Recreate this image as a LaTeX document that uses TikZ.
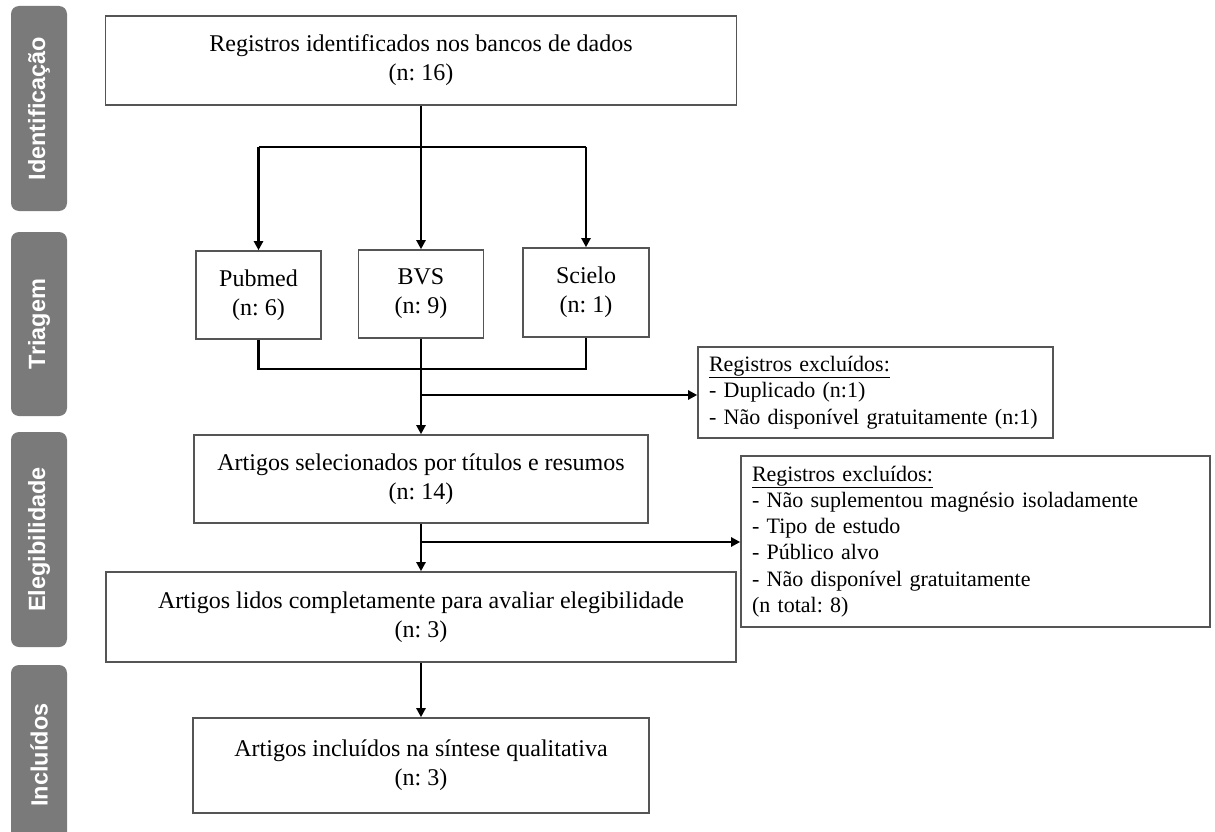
\documentclass[tikz,border=0pt]{standalone}
\usepackage{fontspec}
\setmainfont{Liberation Serif}
\newfontfamily\tabfont{Liberation Sans}
\usetikzlibrary{arrows.meta}
\frenchspacing
\definecolor{tabgray}{RGB}{122,122,122}
\definecolor{boxgray}{RGB}{85,85,85}
\tikzset{
  box/.style={draw=boxgray, line width=1.6pt, fill=white, inner sep=0pt, align=center,
    font=\fontsize{24}{29}\selectfont},
  exbox/.style={draw=boxgray, line width=1.6pt, fill=white, inner xsep=11pt, inner ysep=0pt, align=left,
    font=\fontsize{22}{26.3}\selectfont},
  tab/.style={fill=tabgray, rounded corners=8pt, rotate=90, text=white, inner sep=0pt,
    font=\tabfont\bfseries\fontsize{23.5}{26}\selectfont, minimum height=56pt},
  conn/.style={line width=2.8pt, black},
  arr/.style={conn, -{Triangle[length=9pt,width=9pt]}},
}
\begin{document}
\begin{tikzpicture}[x=1pt,y=-1pt]
\path[use as bounding box, clip] (0,0) rectangle (1215,832);
\fill[white] (0,0) rectangle (1215,832);
% phase tabs
\node[tab, minimum width=205pt] (t1) at (39,108.5) {Identificação};
\node[tab, minimum width=184pt] (t2) at (39,324) {Triagem};
\node[tab, minimum width=215pt] (t3) at (39,539.5) {Elegibilidade};
\node[tab, minimum width=180pt] (t4) at (39,755) {Incluídos};
% main boxes
\node[box, minimum width=631pt, minimum height=89pt] (reg) at (421,60.5) {Registros identificados nos bancos de dados\\(n: 16)};
\node[box, minimum width=125pt, minimum height=88pt] (pub) at (258.5,295) {Pubmed\\(n: 6)};
\node[box, minimum width=125pt, minimum height=88pt] (bvs) at (421,294) {BVS\\(n: 9)};
\node[box, minimum width=126pt, minimum height=89pt] (sci) at (586,292.5) {Scielo\\(n: 1)};
\node[box, minimum width=454pt, minimum height=88pt] (sel) at (421,479) {Artigos selecionados por títulos e resumos\\(n: 14)};
\node[box, minimum width=630pt, minimum height=90pt] (lid) at (421,617) {Artigos lidos completamente para avaliar elegibilidade\\(n: 3)};
\node[box, minimum width=456pt, minimum height=95pt] (inc) at (421,765.5) {Artigos incluídos na síntese qualitativa\\(n: 3)};
% exclusion boxes
\node[exbox, text width=333pt, minimum height=91pt] (ex1) at (875.5,392.5) {\underline{Registros excluídos:}\\- Duplicado (n:1)\\- Não disponível gratuitamente (n:1)};
\node[exbox, text width=447pt, minimum height=171pt] (ex2) at (975.5,541.5) {\underline{Registros excluídos:}\\- Não suplementou magnésio isoladamente\\- Tipo de estudo\\- Público alvo\\- Não disponível gratuitamente\\(n total: 8)};
% connectors
\coordinate (h) at (421,147);
\coordinate (m) at (421,369);
\coordinate (b1) at (421,395);
\coordinate (b2) at (421,542);
\draw[arr] (reg.south) -- (bvs.north);
\draw[conn] (h -| pub.north) -- (h -| sci.north);
\draw[arr] (h -| pub.north) -- (pub.north);
\draw[arr] (h -| sci.north) -- (sci.north);
\draw[conn, line join=miter] (pub.south) -- (m -| pub.south) -- (m -| sci.south) -- (sci.south);
\draw[arr] (bvs.south) -- (sel.north);
\draw[arr] (b1) -- (b1 -| ex1.west);
\draw[arr] (sel.south) -- (lid.north);
\draw[arr] (b2) -- (b2 -| ex2.west);
\draw[arr] (lid.south) -- (inc.north);
\end{tikzpicture}
\end{document}
